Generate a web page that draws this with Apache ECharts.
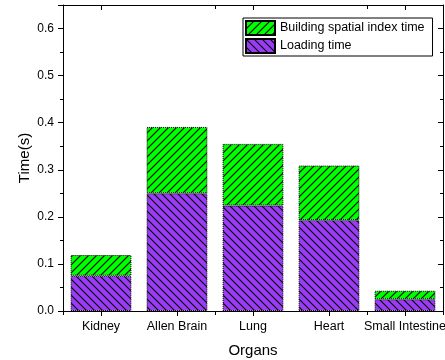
<!DOCTYPE html>
<html><head><meta charset="utf-8">
<script src="https://cdn.jsdelivr.net/npm/echarts@6/dist/echarts.min.js"></script>
<style>html,body{margin:0;padding:0;background:#fff}#c{width:445px;height:360px}</style>
</head><body><div id="c"></div>
<script>
const categories = ['Kidney', 'Allen Brain', 'Lung', 'Heart', 'Small Intestine'];
const loadingTime = [0.075, 0.250, 0.224, 0.193, 0.025];
const buildingTime = [0.044, 0.141, 0.131, 0.116, 0.018];
const seriesNames = ['Building spatial index time', 'Loading time'];

function hatch(fill, dir) {
  const s = 8;
  const c = document.createElement('canvas');
  c.width = s; c.height = s;
  const g = c.getContext('2d');
  g.fillStyle = fill; g.fillRect(0, 0, s, s);
  g.strokeStyle = '#000'; g.lineWidth = 1.1;
  g.beginPath();
  for (let k = -1; k <= 1; k++) {
    if (dir > 0) { g.moveTo(k * s - 1, s + 1); g.lineTo(k * s + s + 1, -1); }
    else { g.moveTo(k * s - 1, -1); g.lineTo(k * s + s + 1, s + 1); }
  }
  g.stroke();
  return { image: c, repeat: 'repeat' };
}
const green = hatch('#00ff00', 1);
const purple = hatch('#9b3cf5', -1);
const font = 'Liberation Sans, Arial, sans-serif';

const chart = echarts.init(document.getElementById('c'), null, { renderer: 'canvas' });
const axisLine = { show: true, lineStyle: { color: '#000', width: 1 } };
chart.setOption({
  animation: false,
  backgroundColor: '#fff',
  grid: { left: 63, right: 2, top: 5, bottom: 49, outerBoundsMode: 'none', containLabel: false },
  legend: {
    orient: 'vertical', left: 243, top: 18,
    data: seriesNames,
    icon: 'rect', itemWidth: 29, itemHeight: 14, itemGap: 2,
    padding: [2, 8, 2, 2],
    borderColor: '#000', borderWidth: 1, backgroundColor: '#fff',
    textStyle: { fontFamily: font, fontSize: 12.5, color: '#000' }
  },
  xAxis: [
    { type: 'category', data: categories, position: 'bottom', axisLine,
      axisTick: { show: true, alignWithLabel: true, length: 5, lineStyle: { color: '#000' } },
      axisLabel: { fontFamily: font, fontSize: 12.5, color: '#000', margin: 9, interval: 0 },
      name: 'Organs', nameLocation: 'middle', nameGap: 32, nameMoveOverlap: false,
      nameTextStyle: { fontFamily: font, fontSize: 15, color: '#000' } },
    { type: 'category', data: categories, position: 'bottom', axisLine: { show: false },
      axisTick: { show: true, length: 4, lineStyle: { color: '#000' } }, axisLabel: { show: false } },
    { type: 'category', data: categories, position: 'top', axisLine,
      axisTick: { show: true, inside: true, alignWithLabel: true, length: 5, lineStyle: { color: '#000' } },
      axisLabel: { show: false } },
    { type: 'category', data: categories, position: 'top', axisLine: { show: false },
      axisTick: { show: true, inside: true, length: 4, lineStyle: { color: '#000' } }, axisLabel: { show: false } }
  ],
  yAxis: [
    { type: 'value', min: 0, max: 0.65, interval: 0.1, position: 'left', axisLine,
      axisTick: { show: true, length: 5, lineStyle: { color: '#000' } },
      minorTick: { show: true, splitNumber: 2, length: 3, lineStyle: { color: '#000' } },
      splitLine: { show: false },
      axisLabel: { fontFamily: font, fontSize: 12, color: '#000', margin: 9, showMaxLabel: false,
        formatter: v => (Math.abs(v * 10 - Math.round(v * 10)) < 1e-6 ? v.toFixed(1) : '') },
      name: 'Time(s)', nameLocation: 'middle', nameGap: 31, nameMoveOverlap: false,
      nameTextStyle: { fontFamily: font, fontSize: 15, color: '#000' } },
    { type: 'value', min: 0, max: 0.65, interval: 0.1, position: 'right', axisLine,
      axisTick: { show: true, inside: true, length: 5, lineStyle: { color: '#000' } },
      minorTick: { show: true, splitNumber: 2, length: 3, lineStyle: { color: '#000' } },
      splitLine: { show: false }, axisLabel: { show: false } }
  ],
  series: [
    { name: seriesNames[1], type: 'bar', stack: 't', data: loadingTime, barWidth: '80%',
      itemStyle: { color: purple, borderColor: '#000', borderWidth: 1, borderType: 'dotted' } },
    { name: seriesNames[0], type: 'bar', stack: 't', data: buildingTime, barWidth: '80%',
      itemStyle: { color: green, borderColor: '#000', borderWidth: 1, borderType: 'dotted' } }
  ]
});
</script></body></html>
